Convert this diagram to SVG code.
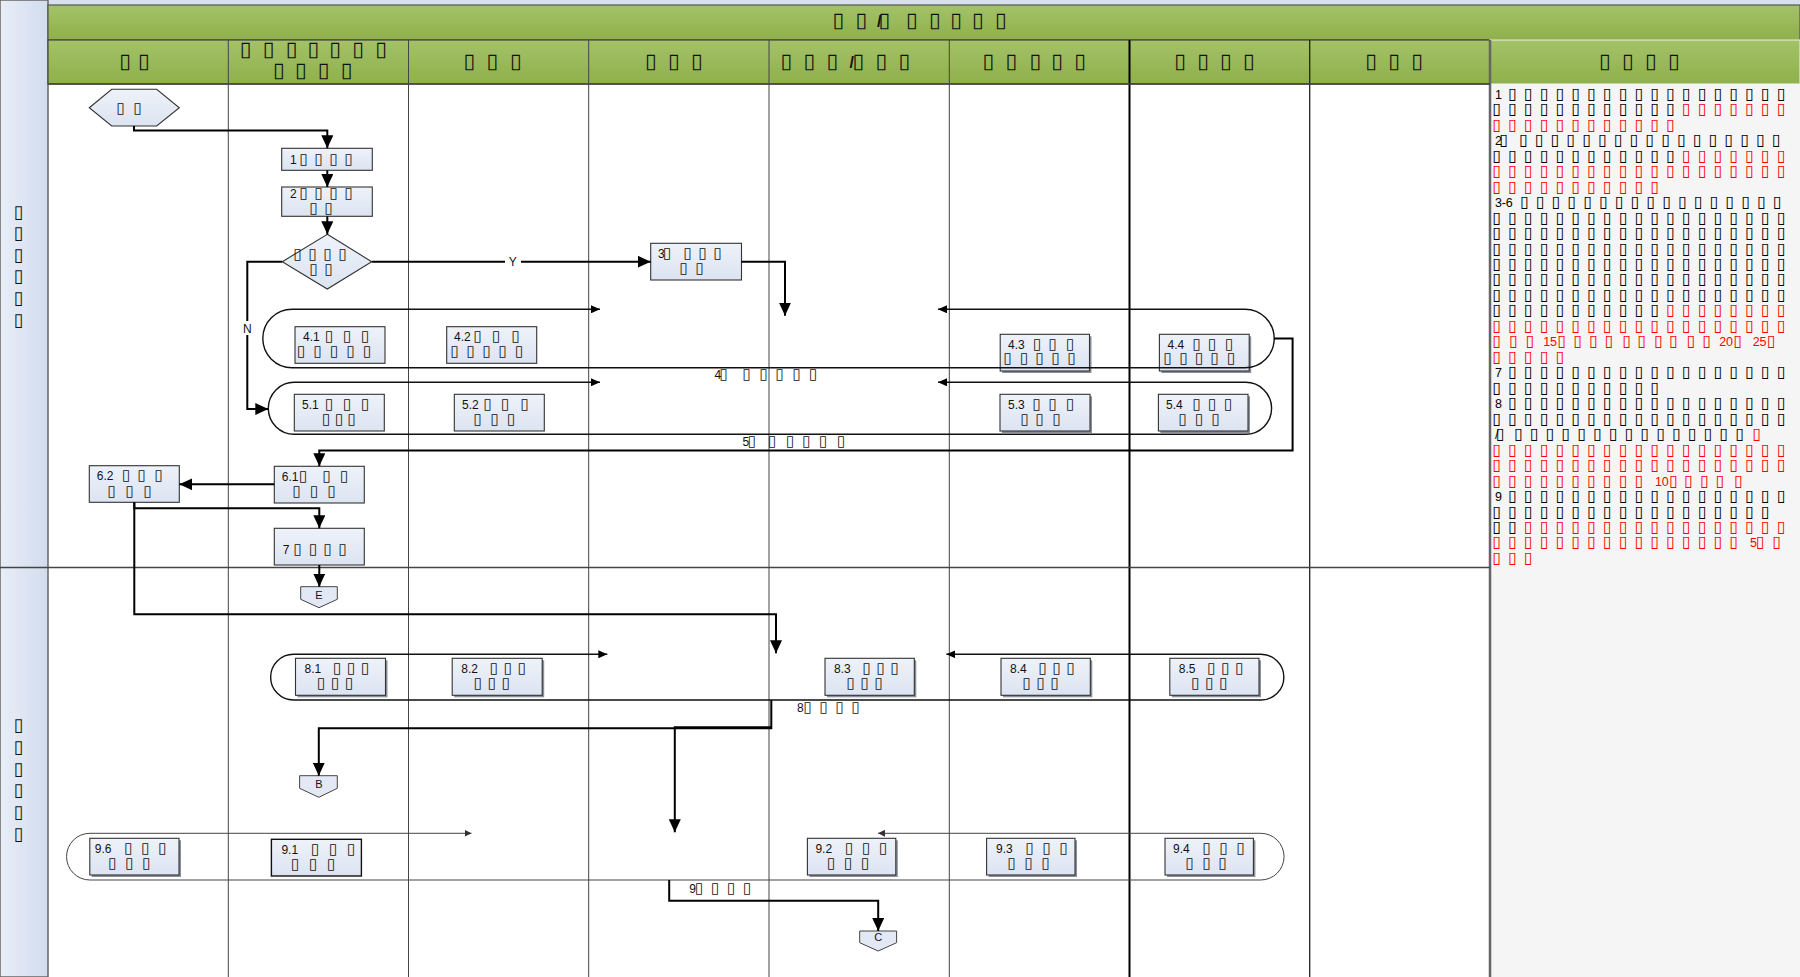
<svg xmlns="http://www.w3.org/2000/svg" width="1800" height="977" viewBox="0 0 1800 977">
<defs>
<linearGradient id="gHead" x1="0" y1="0" x2="0" y2="1"><stop offset="0" stop-color="#a4c268"/><stop offset="1" stop-color="#8fb04b"/></linearGradient>
<linearGradient id="gLeft" x1="0" y1="0" x2="1" y2="0"><stop offset="0" stop-color="#e9eef7"/><stop offset="1" stop-color="#d2dcee"/></linearGradient>
<linearGradient id="gNode" x1="0" y1="0" x2="0" y2="1"><stop offset="0" stop-color="#eef2f9"/><stop offset="1" stop-color="#dce4f2"/></linearGradient>
<marker id="ah" markerUnits="userSpaceOnUse" markerWidth="14" markerHeight="12" refX="13" refY="6" orient="auto-start-reverse"><path d="M0,0 L13,6 L0,12 z" fill="#000"/></marker>
<marker id="as" markerUnits="userSpaceOnUse" markerWidth="10" markerHeight="8" refX="9" refY="4" orient="auto-start-reverse"><path d="M0,0 L9,4 L0,8 z" fill="#000"/></marker>
<marker id="ax" markerUnits="userSpaceOnUse" markerWidth="8" markerHeight="7" refX="7" refY="3.5" orient="auto-start-reverse"><path d="M0,0 L7,3.5 L0,7 z" fill="#333"/></marker>
</defs>
<style>
.col{stroke:#444;stroke-width:1;fill:none}
.node{fill:url(#gNode);stroke:#333;stroke-width:1.1}
.shd{fill:#8a8f99}
.oc{fill:#e3e9f4;stroke:#444;stroke-width:1}
.t{font-family:"Liberation Sans","DejaVu Sans",sans-serif;font-size:15px;fill:#111;transform:translateX(-2.5px)}
.lb{font-family:"Liberation Sans","DejaVu Sans",sans-serif;font-size:12px;fill:#111}
.d{font-size:12px}
.hd{font-family:"Liberation Sans","DejaVu Sans",sans-serif;font-size:21px;font-weight:bold;fill:#111;transform:translateX(-2.5px)}
.ln{font-family:"Liberation Sans","DejaVu Sans",sans-serif;font-size:18px;font-weight:bold;fill:#111}
.nt{font-family:"Liberation Sans","DejaVu Sans",sans-serif;font-size:16px;fill:#000;transform:translateX(-2.5px)}
.nd{font-size:12.5px}
.r{fill:#ff0000}
.conn{fill:none;stroke:#000;stroke-width:2}
.grp{fill:none;stroke:#111;stroke-width:1.4}
</style>
<rect x="0" y="0" width="1800" height="977" fill="#ffffff"/>
<g id="frame">
<rect x="0" y="0" width="1800" height="5" fill="#d8e0ee"/>
<rect x="0" y="0" width="48" height="977" fill="url(#gLeft)" stroke="#666" stroke-width="1.5"/>
<rect x="48" y="5" width="1752" height="35" fill="url(#gHead)" stroke="#555" stroke-width="1.2"/>
<rect x="48" y="40" width="1442" height="44" fill="url(#gHead)" stroke="#444" stroke-width="1.2"/>
<rect x="1490" y="40" width="310" height="44" fill="url(#gHead)" stroke="#d5e2bd" stroke-width="1.5"/>
<rect x="1490" y="84" width="310" height="893" fill="#f5f5f5"/>
<line class="col" x1="228.3" y1="40" x2="228.3" y2="977"/>
<line class="col" x1="408.5" y1="40" x2="408.5" y2="977"/>
<line class="col" x1="588.7" y1="40" x2="588.7" y2="977"/>
<line class="col" x1="769" y1="40" x2="769" y2="977"/>
<line class="col" x1="949.3" y1="40" x2="949.3" y2="977"/>
<line class="col" x1="1129.5" y1="40" x2="1129.5" y2="977" style="stroke:#000;stroke-width:2"/>
<line class="col" x1="1309.7" y1="40" x2="1309.7" y2="977" style="stroke:#222;stroke-width:1.3"/>
<line class="col" x1="1490" y1="40" x2="1490" y2="977" style="stroke:#666;stroke-width:2.5"/>
<line class="col" x1="0" y1="567.5" x2="1490" y2="567.5" style="stroke-width:1.3"/>
<line class="col" x1="48" y1="84" x2="1490" y2="84" style="stroke-width:1.3"/>
<text class="hd" x="835 858 879.5 881 908.6 931.6 952.8 974.6 997.6" y="27">▯▯<tspan style="font-size:16px">/</tspan>▯▯▯▯▯▯</text>
<text class="hd" x="121.7 140.6" y="68">▯▯</text>
<text class="hd" x="242.3 265.2 288.2 310 331.8 354.8 377.7" y="55.6">▯▯▯▯▯▯▯</text>
<text class="hd" x="275.5 297.4 320.3 343.3" y="77.3">▯▯▯▯</text>
<text class="hd" x="466.1 489.1 512.6" y="68">▯▯▯</text>
<text class="hd" x="647.5 670.5 693.5" y="68">▯▯▯</text>
<text class="hd" x="783 806 829 852 855 878 901" y="68">▯▯▯<tspan style="font-size:16px">/</tspan>▯▯▯</text>
<text class="hd" x="985 1008 1032 1053.8 1076.8" y="68">▯▯▯▯▯</text>
<text class="hd" x="1176.7 1199.7 1222.6 1245.6" y="68">▯▯▯▯</text>
<text class="hd" x="1367.8 1390.8 1413.8" y="68">▯▯▯</text>
<text class="hd" x="1601.5 1624.5 1647.4 1670.4" y="68">▯▯▯▯</text>
<text class="ln" x="13.5 13.5 13.5 13.5 13.5 13.5" y="217.5 239.1 260.7 282.3 303.9 325.5">▯▯▯▯▯▯</text>
<text class="ln" x="13.5 13.5 13.5 13.5 13.5 13.5" y="731 752.8 774.6 796.4 818.2 840">▯▯▯▯▯▯</text>
</g>
<g id="n_start"><polygon class="node" points="89.3,107.7 111.7,89.3 156.7,89.3 179.3,107.7 156.7,126 111.7,126"/><text class="t" x="119 136" y="112.5">▯▯</text></g>
<g id="n1"><rect class="node" x="281.7" y="148.3" width="90.6" height="22"/><text class="t" x="290 302 317 332 347" y="164"><tspan class="d" dx="2.5">1</tspan>▯▯▯▯</text></g>
<g id="n2"><rect class="node" x="281.7" y="187" width="90.6" height="29.3"/><text class="t" x="290 302 317 332 347" y="197.8"><tspan class="d" dx="2.5">2</tspan>▯▯▯▯</text><text class="t" x="312 327" y="212.8">▯▯</text></g>
<g id="n_dec"><polygon class="node" points="327.3,234.3 371.7,261.7 327.3,289 282.3,261.7"/><text class="t" x="296 311 326 341" y="259">▯▯▯▯</text><text class="t" x="312 327" y="274">▯▯</text></g>
<g id="n3"><rect class="node" x="650.7" y="243.3" width="90.8" height="36.7"/><text class="t" x="658 665.5 686 701 716" y="258"><tspan class="d" dx="2.5">3</tspan>▯▯▯▯</text><text class="t" x="682 698" y="272.5">▯▯</text></g>
<g id="n4_1"><rect class="node" x="295" y="326.7" width="90" height="36.6"/><text class="t" x="303 309.7 313 327.5 345.5 363.5" y="341.4"><tspan class="d" dx="2.5 2.5 2.5">4.1</tspan>▯▯▯</text><text class="t" x="299.5 316 332.5 349 365.5" y="355.5">▯▯▯▯▯</text></g>
<g id="n4_2"><rect class="node" x="446.7" y="326.7" width="90" height="36.6"/><text class="t" x="454 460.7 464 476 494.5 514" y="341.4"><tspan class="d" dx="2.5 2.5 2.5">4.2</tspan>▯▯▯</text><text class="t" x="453 469 485 501 517.5" y="355.5">▯▯▯▯▯</text></g>
<g id="n4_3"><rect class="shd" x="1002.2" y="336.3" width="89.3" height="36.7"/><rect class="node" x="1000.2" y="334.3" width="89.3" height="36.7"/><text class="t" x="1008 1014.7 1018 1035.5 1051 1068.5" y="349"><tspan class="d" dx="2.5 2.5 2.5">4.3</tspan>▯▯▯</text><text class="t" x="1006 1022.5 1038 1054 1070" y="363">▯▯▯▯▯</text></g>
<g id="n4_4"><rect class="shd" x="1161.4" y="336.3" width="89.8" height="36.7"/><rect class="node" x="1159.4" y="334.3" width="89.8" height="36.7"/><text class="t" x="1167.5 1174.2 1177.5 1195 1210.5 1227.5" y="349"><tspan class="d" dx="2.5 2.5 2.5">4.4</tspan>▯▯▯</text><text class="t" x="1166 1182 1197.5 1213 1229.5" y="363">▯▯▯▯▯</text></g>
<g id="n5_1"><rect class="node" x="294.3" y="394.3" width="90" height="36.7"/><text class="t" x="302 308.7 312 327.5 345.5 363.5" y="409"><tspan class="d" dx="2.5 2.5 2.5">5.1</tspan>▯▯▯</text><text class="t" x="324.5 337.5 350" y="424">▯▯▯</text></g>
<g id="n5_2"><rect class="node" x="454.3" y="394.3" width="90" height="36.7"/><text class="t" x="462 468.7 472 486 503.5 523" y="409"><tspan class="d" dx="2.5 2.5 2.5">5.2</tspan>▯▯▯</text><text class="t" x="476 493 509.5" y="424">▯▯▯</text></g>
<g id="n5_3"><rect class="shd" x="1002" y="396.3" width="90" height="36.7"/><rect class="node" x="1000" y="394.3" width="90" height="36.7"/><text class="t" x="1008 1014.7 1018 1035 1051 1068.5" y="409"><tspan class="d" dx="2.5 2.5 2.5">5.3</tspan>▯▯▯</text><text class="t" x="1023 1038 1055" y="424">▯▯▯</text></g>
<g id="n5_4"><rect class="shd" x="1160.4" y="396.3" width="89.6" height="36.7"/><rect class="node" x="1158.4" y="394.3" width="89.6" height="36.7"/><text class="t" x="1166 1172.7 1176 1195 1210.5 1226.5" y="409"><tspan class="d" dx="2.5 2.5 2.5">5.4</tspan>▯▯▯</text><text class="t" x="1181 1197.5 1214" y="424">▯▯▯</text></g>
<g id="n6_2"><rect class="node" x="89.3" y="465.7" width="90" height="36.6"/><text class="t" x="96.7 103.4 106.7 124.5 140 157" y="479.8"><tspan class="d" dx="2.5 2.5 2.5">6.2</tspan>▯▯▯</text><text class="t" x="110 128 146" y="495.5">▯▯▯</text></g>
<g id="n6_1"><rect class="node" x="274.3" y="466.3" width="90" height="36.7"/><text class="t" x="281.7 288.4 291.7 301.5 325 342.5" y="480.8"><tspan class="d" dx="2.5 2.5 2.5">6.1</tspan>▯▯▯</text><text class="t" x="295 312.5 330" y="495.8">▯▯▯</text></g>
<g id="n7"><rect class="node" x="274.3" y="528.3" width="90" height="36.7"/><text class="t" x="282.7 296 311.5 326 341" y="554"><tspan class="d" dx="2.5">7</tspan>▯▯▯▯</text></g>
<g id="n_E"><polygon class="oc" points="300.7,586.7 337.3,586.7 337.3,599.3 319,607.7 300.7,599.3"/><text class="lb" x="319" y="598.5" text-anchor="middle" style="font-size:11px">E</text></g>
<g id="n8_1"><rect class="shd" x="297.5" y="660.3" width="90" height="37"/><rect class="node" x="295.5" y="658.3" width="90" height="37"/><text class="t" x="304.5 311.2 314.5 335.5 349.5 363.5" y="673"><tspan class="d" dx="2.5 2.5 2.5">8.1</tspan>▯▯▯</text><text class="t" x="319.5 333.5 347.5" y="687.5">▯▯▯</text></g>
<g id="n8_2"><rect class="shd" x="454.2" y="660.3" width="90" height="37"/><rect class="node" x="452.2" y="658.3" width="90" height="37"/><text class="t" x="461.2 467.9 471.2 492.2 506.2 520.2" y="673"><tspan class="d" dx="2.5 2.5 2.5">8.2</tspan>▯▯▯</text><text class="t" x="476.2 490.2 504.2" y="687.5">▯▯▯</text></g>
<g id="n8_3"><rect class="shd" x="827" y="660.3" width="89.3" height="37"/><rect class="node" x="825" y="658.3" width="89.3" height="37"/><text class="t" x="834 840.7 844 865 879 893" y="673"><tspan class="d" dx="2.5 2.5 2.5">8.3</tspan>▯▯▯</text><text class="t" x="849 863 877" y="687.5">▯▯▯</text></g>
<g id="n8_4"><rect class="shd" x="1003" y="660.3" width="89.3" height="37"/><rect class="node" x="1001" y="658.3" width="89.3" height="37"/><text class="t" x="1010 1016.7 1020 1041 1055 1069" y="673"><tspan class="d" dx="2.5 2.5 2.5">8.4</tspan>▯▯▯</text><text class="t" x="1025 1039 1053" y="687.5">▯▯▯</text></g>
<g id="n8_5"><rect class="shd" x="1171.8" y="660.3" width="89.2" height="37"/><rect class="node" x="1169.8" y="658.3" width="89.2" height="37"/><text class="t" x="1178.8 1185.5 1188.8 1209.8 1223.8 1237.8" y="673"><tspan class="d" dx="2.5 2.5 2.5">8.5</tspan>▯▯▯</text><text class="t" x="1193.8 1207.8 1221.8" y="687.5">▯▯▯</text></g>
<g id="n_B"><polygon class="oc" points="299.6,775.7 337.3,775.7 337.3,788.3 318.8,797.3 299.6,788.3"/><text class="lb" x="318.8" y="787.5" text-anchor="middle" style="font-size:11px">B</text></g>
<g id="n9_6"><rect class="shd" x="91.8" y="840.3" width="89.2" height="36.7"/><rect class="node" x="89.8" y="838.3" width="89.2" height="36.7"/><text class="t" x="94.8 101.5 104.8 126.8 143.8 160.8" y="853"><tspan class="d" dx="2.5 2.5 2.5">9.6</tspan>▯▯▯</text><text class="t" x="110.8 127.8 144.8" y="867.5">▯▯▯</text></g>
<g id="n9_1"><rect class="node" x="271.4" y="839.3" width="90" height="36.7" style="stroke:#111;stroke-width:1.4"/><text class="t" x="281.4 288.1 291.4 313.4 331.4 349.4" y="854"><tspan class="d" dx="2.5 2.5 2.5">9.1</tspan>▯▯▯</text><text class="t" x="293.4 311.4 329.4" y="868.8">▯▯▯</text></g>
<g id="n9_2"><rect class="shd" x="809.4" y="840.3" width="88.4" height="36.7"/><rect class="node" x="807.4" y="838.3" width="88.4" height="36.7"/><text class="t" x="815.4 822.1 825.4 847.4 864.4 881.4" y="853"><tspan class="d" dx="2.5 2.5 2.5">9.2</tspan>▯▯▯</text><text class="t" x="829.4 846.4 863.4" y="867.5">▯▯▯</text></g>
<g id="n9_3"><rect class="shd" x="988.6" y="840.3" width="88.4" height="36.7"/><rect class="node" x="986.6" y="838.3" width="88.4" height="36.7"/><text class="t" x="996 1002.7 1006 1028 1045 1062" y="853"><tspan class="d" dx="2.5 2.5 2.5">9.3</tspan>▯▯▯</text><text class="t" x="1010 1027 1044" y="867.5">▯▯▯</text></g>
<g id="n9_4"><rect class="shd" x="1167" y="840.3" width="88.4" height="36.7"/><rect class="node" x="1165" y="838.3" width="88.4" height="36.7"/><text class="t" x="1173 1179.7 1183 1205 1222 1239" y="853"><tspan class="d" dx="2.5 2.5 2.5">9.4</tspan>▯▯▯</text><text class="t" x="1188 1205 1221" y="867.5">▯▯▯</text></g>
<g id="n_C"><polygon class="oc" points="859.7,931 896.6,931 896.6,942.7 878.2,951 859.7,942.7"/><text class="lb" x="878.2" y="941" text-anchor="middle" style="font-size:11px">C</text></g>
<g id="connectors">
<path class="grp" d="M600,309.3 H292 A29.2,29.2 0 0 0 292,367.7 H1245 A29.2,29.2 0 0 0 1245,309.3 H938" marker-start="url(#as)" marker-end="url(#as)"/>
<path class="grp" d="M600,382.3 H294.3 A26,26 0 0 0 294.3,434.3 H1245.6 A26,26 0 0 0 1245.6,382.3 H938" marker-start="url(#as)" marker-end="url(#as)"/>
<path class="grp" d="M607.3,654.3 H293.5 A22.85,22.85 0 0 0 293.5,700 H1261 A22.85,22.85 0 0 0 1261,654.3 H946.4" marker-start="url(#as)" marker-end="url(#as)"/>
<path class="grp" d="M471.5,833.3 H89.9 A23.35,23.35 0 0 0 89.9,880 H1260.7 A23.35,23.35 0 0 0 1260.7,833.3 H878" style="stroke:#444;stroke-width:1" marker-start="url(#ax)" marker-end="url(#ax)"/>
<path class="conn" d="M134,126 V130.5 H327.3 V148.3" marker-end="url(#ah)"/>
<path class="conn" d="M327.3,170.3 V187" marker-end="url(#ah)"/>
<path class="conn" d="M327.3,216.3 V234.3" marker-end="url(#ah)"/>
<path class="conn" d="M371.7,261.7 H650.7" marker-end="url(#ah)"/>
<path class="conn" d="M282.3,261.7 H247.3 V409 H268.3" marker-end="url(#ah)"/>
<path class="conn" d="M741.5,261.7 H785 V315.7" marker-end="url(#ah)"/>
<path class="conn" d="M1274,338.5 H1292.6 V450.5 H319.3 V466.3" marker-end="url(#ah)"/>
<path class="conn" d="M274.3,484.3 H179.3" marker-end="url(#ah)"/>
<path class="conn" d="M134.3,502.3 V508.3 H319.3 V528.3" marker-end="url(#ah)"/>
<path class="conn" d="M134.3,502.3 V614.3 H776 V653.3" marker-end="url(#ah)"/>
<path class="conn" d="M319.3,565 V586.7" marker-end="url(#ah)"/>
<path class="conn" d="M771.3,700 V728.3 H318.8 V775.7" marker-end="url(#ah)"/>
<path class="conn" d="M771.3,727.3 H674.8 V832.3" marker-end="url(#ah)"/>
<path class="conn" d="M669.2,880 V900.7 H878.2 V931" marker-end="url(#ah)"/>
<rect x="505" y="255" width="16" height="13" fill="#ffffff"/>
<text class="lb" x="512.7" y="266" text-anchor="middle">Y</text>
<rect x="240.5" y="321" width="14" height="14" fill="#ffffff"/>
<text class="lb" x="247.3" y="332.6" text-anchor="middle">N</text>
<text class="t" x="714.5 722 745 762 778 795 811.4" y="378.8"><tspan class="d" dx="2.5">4</tspan>▯▯▯▯▯▯</text>
<text class="t" x="742.5 750.2 770.6 788.5 804.8 821.6 839.5" y="445.5"><tspan class="d" dx="2.5">5</tspan>▯▯▯▯▯▯</text>
<text class="t" x="797 806 822 838 854" y="711.5"><tspan class="d" dx="2.5">8</tspan>▯▯▯▯</text>
<text class="t" x="689.3 697.5 713.5 729.5 745.5" y="892.5"><tspan class="d" dx="2.5">9</tspan>▯▯▯▯</text>
</g>
<g id="notes">
<text class="nt" x="1495 1510.8 1526.6 1542.4 1558.2 1574 1589.8 1605.6 1621.4 1637.2 1653 1668.8 1684.6 1700.4 1716.2 1732 1747.8 1763.6 1779.4" y="98.8"><tspan class="nd" dx="2.5">1</tspan>▯▯▯▯▯▯▯▯▯▯▯▯▯▯▯▯▯▯</text>
<text class="nt" x="1495 1510.8 1526.6 1542.4 1558.2 1574 1589.8 1605.6 1621.4 1637.2 1653 1668.8 1684.6 1700.4 1716.2 1732 1747.8 1763.6 1779.4" y="114.3">▯▯▯▯▯▯▯▯▯▯▯▯<tspan class="r">▯▯▯▯▯▯▯</tspan></text>
<text class="nt r" x="1495 1510.8 1526.6 1542.4 1558.2 1574 1589.8 1605.6 1621.4 1637.2 1653 1668.8" y="129.7">▯▯▯▯▯▯▯▯▯▯▯▯</text>
<text class="nt" x="1495 1502 1521.7 1537.5 1553.3 1569.1 1584.9 1600.7 1616.5 1632.3 1648.1 1663.9 1679.7 1695.5 1711.3 1727.1 1742.9 1758.7 1774.5" y="145.2"><tspan class="nd" dx="2.5">2</tspan>▯▯▯▯▯▯▯▯▯▯▯▯▯▯▯▯▯▯</text>
<text class="nt" x="1495 1510.8 1526.6 1542.4 1558.2 1574 1589.8 1605.6 1621.4 1637.2 1653 1668.8 1684.6 1700.4 1716.2 1732 1747.8 1763.6 1779.4" y="160.7">▯▯▯▯▯▯▯▯▯▯▯▯<tspan class="r">▯▯▯▯▯▯▯</tspan></text>
<text class="nt r" x="1495 1510.8 1526.6 1542.4 1558.2 1574 1589.8 1605.6 1621.4 1637.2 1653 1668.8 1684.6 1700.4 1716.2 1732 1747.8 1763.6 1779.4" y="176.2">▯▯▯▯▯▯▯▯▯▯▯▯▯▯▯▯▯▯▯</text>
<text class="nt r" x="1495 1510.8 1526.6 1542.4 1558.2 1574 1589.8 1605.6 1621.4 1637.2 1653" y="191.6">▯▯▯▯▯▯▯▯▯▯▯</text>
<text class="nt" x="1495 1501.7 1505.7 1522.7 1538.5 1554.3 1570.1 1585.9 1601.7 1617.5 1633.3 1649.1 1664.9 1680.7 1696.5 1712.3 1728.1 1743.9 1759.7 1775.5" y="207.1"><tspan class="nd" dx="2.5 2.5 2.5">3-6</tspan>▯▯▯▯▯▯▯▯▯▯▯▯▯▯▯▯▯</text>
<text class="nt" x="1495 1510.8 1526.6 1542.4 1558.2 1574 1589.8 1605.6 1621.4 1637.2 1653 1668.8 1684.6 1700.4 1716.2 1732 1747.8 1763.6 1779.4" y="222.6">▯▯▯▯▯▯▯▯▯▯▯▯▯▯▯▯▯▯▯</text>
<text class="nt" x="1495 1510.8 1526.6 1542.4 1558.2 1574 1589.8 1605.6 1621.4 1637.2 1653 1668.8 1684.6 1700.4 1716.2 1732 1747.8 1763.6 1779.4" y="238">▯▯▯▯▯▯▯▯▯▯▯▯▯▯▯▯▯▯▯</text>
<text class="nt" x="1495 1510.8 1526.6 1542.4 1558.2 1574 1589.8 1605.6 1621.4 1637.2 1653 1668.8 1684.6 1700.4 1716.2 1732 1747.8 1763.6 1779.4" y="253.5">▯▯▯▯▯▯▯▯▯▯▯▯▯▯▯▯▯▯▯</text>
<text class="nt" x="1495 1510.8 1526.6 1542.4 1558.2 1574 1589.8 1605.6 1621.4 1637.2 1653 1668.8 1684.6 1700.4 1716.2 1732 1747.8 1763.6 1779.4" y="269">▯▯▯▯▯▯▯▯▯▯▯▯▯▯▯▯▯▯▯</text>
<text class="nt" x="1495 1510.8 1526.6 1542.4 1558.2 1574 1589.8 1605.6 1621.4 1637.2 1653 1668.8 1684.6 1700.4 1716.2 1732 1747.8 1763.6 1779.4" y="284.4">▯▯▯▯▯▯▯▯▯▯▯▯▯▯▯▯▯▯▯</text>
<text class="nt" x="1495 1510.8 1526.6 1542.4 1558.2 1574 1589.8 1605.6 1621.4 1637.2 1653 1668.8 1684.6 1700.4 1716.2 1732 1747.8 1763.6 1779.4" y="299.9">▯▯▯▯▯▯▯▯▯▯▯▯▯▯▯▯▯▯▯</text>
<text class="nt" x="1495 1510.8 1526.6 1542.4 1558.2 1574 1589.8 1605.6 1621.4 1637.2 1653 1668.8 1684.6 1700.4 1716.2 1732 1747.8 1763.6 1779.4" y="315.4">▯▯▯▯▯▯▯▯▯▯▯<tspan class="r">▯▯▯▯▯▯▯▯</tspan></text>
<text class="nt r" x="1495 1510.8 1526.6 1542.4 1558.2 1574 1589.8 1605.6 1621.4 1637.2 1653 1668.8 1684.6 1700.4 1716.2 1732 1747.8 1763.6 1779.4" y="330.9">▯▯▯▯▯▯▯▯▯▯▯▯▯▯▯▯▯▯▯</text>
<text class="nt r" x="1495 1511.7 1528.3 1543.3 1550 1560 1576 1591.7 1607.3 1625 1640 1656.7 1671.7 1689.3 1705 1719.3 1726 1736 1752.7 1759.4 1769.5" y="346.3">▯▯▯<tspan class="nd" dx="2.5 2.5">15</tspan>▯▯▯▯▯▯▯▯▯▯<tspan class="nd" dx="2.5 2.5">20</tspan>▯<tspan class="nd" dx="2.5 2.5">25</tspan>▯</text>
<text class="nt r" x="1495 1510.8 1526.6 1542.4 1558.2" y="361.8">▯▯▯▯▯</text>
<text class="nt" x="1495 1510.8 1526.6 1542.4 1558.2 1574 1589.8 1605.6 1621.4 1637.2 1653 1668.8 1684.6 1700.4 1716.2 1732 1747.8 1763.6 1779.4" y="377.3"><tspan class="nd" dx="2.5">7</tspan>▯▯▯▯▯▯▯▯▯▯▯▯▯▯▯▯▯▯</text>
<text class="nt" x="1495 1510.8 1526.6 1542.4 1558.2 1574 1589.8 1605.6 1621.4 1637.2 1653" y="392.7">▯▯▯▯▯▯▯▯▯▯▯</text>
<text class="nt" x="1495 1510.8 1526.6 1542.4 1558.2 1574 1589.8 1605.6 1621.4 1637.2 1653 1668.8 1684.6 1700.4 1716.2 1732 1747.8 1763.6 1779.4" y="408.2"><tspan class="nd" dx="2.5">8</tspan>▯▯▯▯▯▯▯▯▯▯▯▯▯▯▯▯▯▯</text>
<text class="nt" x="1495 1510.8 1526.6 1542.4 1558.2 1574 1589.8 1605.6 1621.4 1637.2 1653 1668.8 1684.6 1700.4 1716.2 1732 1747.8 1763.6 1779.4" y="423.7">▯▯▯▯▯▯▯▯▯▯▯▯▯▯▯▯▯▯▯</text>
<text class="nt" x="1495 1498.5 1516.7 1532.5 1548.3 1564.1 1579.9 1595.7 1611.5 1627.3 1643.1 1658.9 1674.7 1690.5 1706.3 1722.1 1737.9 1755" y="439.1"><tspan class="nd" dx="2.5">/</tspan>▯▯▯▯▯▯▯▯▯▯▯▯▯▯▯▯<tspan class="r">▯</tspan></text>
<text class="nt r" x="1495 1510.8 1526.6 1542.4 1558.2 1574 1589.8 1605.6 1621.4 1637.2 1653 1668.8 1684.6 1700.4 1716.2 1732 1747.8 1763.6 1779.4" y="454.6">▯▯▯▯▯▯▯▯▯▯▯▯▯▯▯▯▯▯▯</text>
<text class="nt r" x="1495 1510.8 1526.6 1542.4 1558.2 1574 1589.8 1605.6 1621.4 1637.2 1653 1668.8 1684.6 1700.4 1716.2 1732 1747.8 1763.6 1779.4" y="470.1">▯▯▯▯▯▯▯▯▯▯▯▯▯▯▯▯▯▯▯</text>
<text class="nt r" x="1495 1510.8 1526.6 1542.4 1558.2 1574 1589.8 1605.6 1621.4 1637.2 1655 1661.7 1671.7 1686.7 1702.7 1718.3 1736.7" y="485.6">▯▯▯▯▯▯▯▯▯▯<tspan class="nd" dx="2.5 2.5">10</tspan>▯▯▯▯▯</text>
<text class="nt" x="1495 1510.8 1526.6 1542.4 1558.2 1574 1589.8 1605.6 1621.4 1637.2 1653 1668.8 1684.6 1700.4 1716.2 1732 1747.8 1763.6 1779.4" y="501"><tspan class="nd" dx="2.5">9</tspan>▯▯▯▯▯▯▯▯▯▯▯▯▯▯▯▯▯▯</text>
<text class="nt" x="1495 1510.8 1526.6 1542.4 1558.2 1574 1589.8 1605.6 1621.4 1637.2 1653 1668.8 1684.6 1700.4 1716.2 1732 1747.8 1763.6" y="516.5">▯▯▯▯▯▯▯▯▯▯▯▯▯▯▯▯▯▯</text>
<text class="nt" x="1495 1510.8 1526.6 1542.4 1558.2 1574 1589.8 1605.6 1621.4 1637.2 1653 1668.8 1684.6 1700.4 1716.2 1732 1747.8 1763.6 1779.4" y="532">▯▯<tspan class="r">▯▯▯▯▯▯▯▯▯▯▯▯▯▯▯▯▯</tspan></text>
<text class="nt r" x="1495 1510.8 1526.6 1542.4 1558.2 1574 1589.8 1605.6 1621.4 1637.2 1653 1668.8 1684.6 1700.4 1716.2 1732 1750 1758.5 1775" y="547.4">▯▯▯▯▯▯▯▯▯▯▯▯▯▯▯▯<tspan class="nd" dx="2.5">5</tspan>▯▯</text>
<text class="nt r" x="1495 1510.8 1526.6" y="562.9">▯▯▯</text>
</g>
</svg>
